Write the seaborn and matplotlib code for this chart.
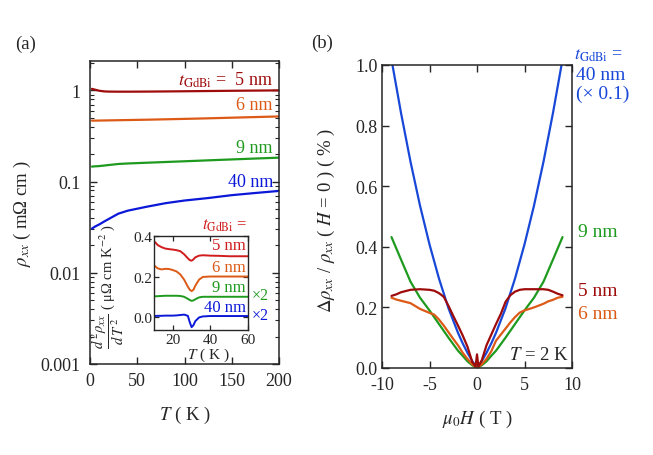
import numpy as np
import pandas as pd
import matplotlib
matplotlib.use("Agg")
import matplotlib.pyplot as plt
import seaborn as sns
from matplotlib.ticker import FixedLocator, NullFormatter, LogLocator

# ---------------- data: panel (a) main ----------------
T_main = [2, 5, 10, 15, 20, 30, 40, 60, 80, 100, 125, 150, 175, 200]
rho_5nm = [1.04, 1.02, 0.99, 0.975, 0.97, 0.968, 0.968, 0.97, 0.974, 0.978, 0.984, 0.99, 0.995, 1.0]
rho_6nm = [0.466, 0.466, 0.467, 0.468, 0.469, 0.471, 0.473, 0.477, 0.482, 0.487, 0.494, 0.502, 0.51, 0.518]
rho_9nm = [0.146, 0.147, 0.148, 0.150, 0.152, 0.156, 0.158, 0.161, 0.164, 0.167, 0.171, 0.175, 0.179, 0.183]
rho_40nm = [0.0305, 0.032, 0.034, 0.0365, 0.039, 0.0445, 0.048, 0.053, 0.058, 0.062, 0.066, 0.071, 0.075, 0.079]

# ---------------- data: panel (a) inset ----------------
T_in = [10, 12, 14, 16, 18, 20, 22, 24, 26, 28, 29, 30, 31, 32, 34, 36, 40, 45, 50, 55, 60]
d2_5nm = [0.375, 0.355, 0.345, 0.338, 0.335, 0.333, 0.330, 0.325, 0.310, 0.290, 0.281, 0.278, 0.285,
          0.295, 0.303, 0.305, 0.303, 0.302, 0.300, 0.300, 0.300]
d2_6nm = [0.255, 0.240, 0.235, 0.238, 0.237, 0.232, 0.225, 0.210, 0.185, 0.150, 0.135, 0.128, 0.135,
          0.155, 0.185, 0.198, 0.200, 0.200, 0.200, 0.200, 0.200]
d2_9nm = [0.102, 0.103, 0.104, 0.105, 0.105, 0.105, 0.105, 0.104, 0.100, 0.090, 0.084, 0.080, 0.082,
          0.088, 0.097, 0.100, 0.100, 0.100, 0.100, 0.100, 0.100]
d2_40nm = [0.005, 0.006, 0.006, 0.007, 0.007, 0.007, 0.008, 0.010, 0.012, 0.006, -0.025, -0.050, -0.040,
           -0.020, -0.002, 0.003, 0.005, 0.005, 0.005, 0.005, 0.005]

# ---------------- data: panel (b) ----------------
H_sym = [-9, -8, -7, -6, -5, -4, -3, -2, -1.5, -1, -0.5, 0, 0.5, 1, 1.5, 2, 3, 4, 5, 6, 7, 8, 9]
mr_40nm = [1.018, 0.842, 0.681, 0.536, 0.408, 0.295, 0.197, 0.116, 0.081, 0.050, 0.023, 0.0,
           0.023, 0.050, 0.081, 0.116, 0.197, 0.295, 0.408, 0.536, 0.681, 0.842, 1.018]
mr_9nm = [0.432, 0.358, 0.285, 0.232, 0.190, 0.145, 0.100, 0.057, 0.040, 0.022, 0.009, 0.0,
          0.009, 0.022, 0.040, 0.057, 0.100, 0.145, 0.190, 0.232, 0.285, 0.358, 0.432]

H_5nm = [-9, -8.5, -8, -7, -6, -5, -4.5, -4, -3.5, -3, -2.5, -2, -1.5, -1, -0.5, -0.15, 0, 0.15,
         0.5, 1, 1.5, 2, 2.5, 3, 3.5, 4, 4.5, 5, 6, 7, 7.5, 8, 8.5, 9]
mr_5nm = [0.238, 0.243, 0.250, 0.258, 0.260, 0.258, 0.255, 0.247, 0.235, 0.205, 0.172, 0.140, 0.107,
          0.070, 0.020, 0.005, 0.045, 0.005, 0.025, 0.075, 0.110, 0.145, 0.178, 0.218, 0.240, 0.252,
          0.258, 0.260, 0.260, 0.260, 0.258, 0.252, 0.245, 0.240]

H_6nm = [-9, -8.5, -8, -7, -6, -5, -4.5, -4, -3.5, -3, -2.5, -2, -1.5, -1, -0.5, 0,
         0.5, 1, 1.5, 2, 2.5, 3, 3.5, 4, 4.5, 5, 6, 7, 7.5, 8, 8.5, 9]
mr_6nm = [0.232, 0.226, 0.222, 0.214, 0.195, 0.182, 0.176, 0.160, 0.140, 0.118, 0.096, 0.075, 0.050,
          0.030, 0.012, 0.0, 0.012, 0.030, 0.055, 0.090, 0.110, 0.130, 0.150, 0.168, 0.183, 0.190,
          0.200, 0.212, 0.220, 0.225, 0.232, 0.235]

C_RED = "#9e0b0b"
C_RED2 = "#d01c1c"
C_ORANGE = "#dc5a16"
C_GREEN = "#1e9a1e"
C_BLUE_A = "#0b18d8"
C_BLUE_B = "#1848d8"

sns.set_theme(style="ticks")
plt.rcParams["font.family"] = ["Liberation Serif", "DejaVu Serif"]
plt.rcParams["mathtext.fontset"] = "stix"
plt.rcParams["axes.linewidth"] = 1.1
plt.rcParams["xtick.direction"] = "in"
plt.rcParams["ytick.direction"] = "in"

W, Hpx = 653, 456
fig = plt.figure(figsize=(6.53, 4.56), dpi=100)


def rect(l, r, t, b):
    return [l / W, 1 - b / Hpx, (r - l) / W, (b - t) / Hpx]


axA = fig.add_axes(rect(90, 279, 62, 365))
axB = fig.add_axes(rect(382, 572, 66, 369))
axI = fig.add_axes(rect(154, 248, 237, 331))

LW = 1.6
# panel a
for y, c in [(rho_5nm, C_RED), (rho_6nm, C_ORANGE), (rho_9nm, C_GREEN), (rho_40nm, C_BLUE_A)]:
    sns.lineplot(x=T_main, y=y, ax=axA, color=c, lw=LW)
axA.set_yscale("log")
axA.set_xlim(0, 200)
axA.set_ylim(0.001, 2.1)
axA.xaxis.set_major_locator(FixedLocator([0, 50, 100, 150, 200]))
axA.yaxis.set_major_locator(FixedLocator([0.001, 0.01, 0.1, 1]))
axA.set_yticklabels(["0.001", "0.01", "0.1", "1"])
axA.yaxis.set_minor_locator(LogLocator(base=10, subs=np.arange(2, 10), numticks=20))
axA.yaxis.set_minor_formatter(NullFormatter())
axA.tick_params(which="both", top=True, right=True, labelsize=13)
axA.tick_params(axis="y", pad=7)
axA.tick_params(axis="x", pad=6)
axA.tick_params(which="major", length=5, width=1.0)
axA.tick_params(which="minor", length=3, width=0.8)
axA.set_xlabel(r"$T$ ( K )", fontsize=13.5)
axA.set_ylabel(r"$\rho_{xx}$ ( mΩ cm )", fontsize=13.5)
axA.xaxis.set_label_coords(0.5, -0.13)
axA.yaxis.set_label_coords(-0.30, 0.5)

tx = 0.968
axA.text(tx, 0.94, r"$t_{\mathrm{GdBi}}$ =  5 nm", transform=axA.transAxes, ha="right", va="center",
         color=C_RED, fontsize=13)
axA.text(tx, 0.855, "6 nm", transform=axA.transAxes, ha="right", va="center", color=C_ORANGE, fontsize=13)
axA.text(tx, 0.716, "9 nm", transform=axA.transAxes, ha="right", va="center", color=C_GREEN, fontsize=13)
axA.text(tx, 0.602, "40 nm", transform=axA.transAxes, ha="right", va="center", color=C_BLUE_A, fontsize=13)

# inset
for y, c in [(d2_5nm, C_RED2), (d2_6nm, C_ORANGE), (d2_9nm, C_GREEN), (d2_40nm, C_BLUE_A)]:
    sns.lineplot(x=T_in, y=y, ax=axI, color=c, lw=1.4)
axI.set_xlim(10, 60)
axI.set_ylim(-0.064, 0.4)
axI.xaxis.set_major_locator(FixedLocator([20, 40, 60]))
axI.yaxis.set_major_locator(FixedLocator([0.0, 0.2, 0.4]))
axI.set_yticklabels(["0.0", "0.2", "0.4"])
axI.tick_params(which="both", top=True, right=True, labelsize=11, length=3.5, width=0.9)
axI.tick_params(axis="x", pad=2)
axI.tick_params(axis="y", pad=1.5)
axI.set_xlabel(r"$T$ ( K )", fontsize=11)
axI.xaxis.set_label_coords(0.58, -0.17)
axI.set_ylabel(r"$\dfrac{d^{\,2}\rho_{xx}}{d\,T^{\,2}}$ ( μΩ cm K$^{-2}$ )", fontsize=10.5)
axI.yaxis.set_label_coords(-0.30, 0.47)
for spine in axI.spines.values():
    spine.set_linewidth(1.0)

ix = 0.98
axI.text(ix, 0.907, "5 nm", transform=axI.transAxes, ha="right", va="center", color=C_RED2, fontsize=12)
axI.text(ix, 0.667, "6 nm", transform=axI.transAxes, ha="right", va="center", color=C_ORANGE, fontsize=12)
axI.text(ix, 0.46, "9 nm", transform=axI.transAxes, ha="right", va="center", color=C_GREEN, fontsize=12)
axI.text(ix, 0.248, "40 nm", transform=axI.transAxes, ha="right", va="center", color=C_BLUE_A, fontsize=12)
fig.text(252 / W, 1 - 296 / Hpx, "×2", ha="left", va="center", color=C_GREEN, fontsize=11.5)
fig.text(252 / W, 1 - 316.5 / Hpx, "×2", ha="left", va="center", color=C_BLUE_A, fontsize=11.5)
fig.text(225 / W, 1 - 226 / Hpx, r"$t_{\mathrm{GdBi}}$ =", ha="center", va="center", color=C_RED2, fontsize=12)

# panel b
for x, y, c in [(H_sym, mr_40nm, C_BLUE_B), (H_sym, mr_9nm, C_GREEN),
                (H_6nm, mr_6nm, C_ORANGE), (H_5nm, mr_5nm, C_RED)]:
    sns.lineplot(x=x, y=y, ax=axB, color=c, lw=LW, sort=False)
axB.set_xlim(-10, 10)
axB.set_ylim(0, 1.0)
axB.xaxis.set_major_locator(FixedLocator([-10, -5, 0, 5, 10]))
axB.set_xticklabels(["-10", "-5", "0", "5", "10"])
axB.yaxis.set_major_locator(FixedLocator([0.0, 0.2, 0.4, 0.6, 0.8, 1.0]))
axB.set_yticklabels(["0.0", "0.2", "0.4", "0.6", "0.8", "1.0"])
axB.tick_params(which="both", top=True, right=True, labelsize=13, length=5, width=1.0)
axB.tick_params(axis="y", pad=3)
axB.tick_params(axis="x", pad=6)
axB.set_xlabel(r"$\mu_0H$ ( T )", fontsize=13.5)
axB.set_ylabel(r"$\Delta\rho_{xx}$ / $\rho_{xx}$ ( $H$ = 0 ) ( % )", fontsize=13.5)
axB.xaxis.set_label_coords(0.5, -0.13)
axB.yaxis.set_label_coords(-0.235, 0.49)
axB.text(0.985, 0.045, r"$T$ = 2 K", transform=axB.transAxes, ha="right", va="center", fontsize=13.5)

fig.text(574 / W, 1 - 55 / Hpx, r"$t_{\mathrm{GdBi}}$ =", ha="left", va="center", color=C_BLUE_B, fontsize=13)
fig.text(576 / W, 1 - 75 / Hpx, "40 nm", ha="left", va="center", color=C_BLUE_B, fontsize=14)
fig.text(576 / W, 1 - 94 / Hpx, "(× 0.1)", ha="left", va="center", color=C_BLUE_B, fontsize=14)
fig.text(578 / W, 1 - 233 / Hpx, "9 nm", ha="left", va="center", color=C_GREEN, fontsize=14)
fig.text(578 / W, 1 - 291 / Hpx, "5 nm", ha="left", va="center", color=C_RED, fontsize=14)
fig.text(578 / W, 1 - 315 / Hpx, "6 nm", ha="left", va="center", color=C_ORANGE, fontsize=14)

fig.text(26 / W, 1 - 44 / Hpx, "(a)", ha="center", va="center", fontsize=13.5)
fig.text(322 / W, 1 - 43 / Hpx, "(b)", ha="center", va="center", fontsize=13.5)

fig.savefig("out.png", dpi=100)
